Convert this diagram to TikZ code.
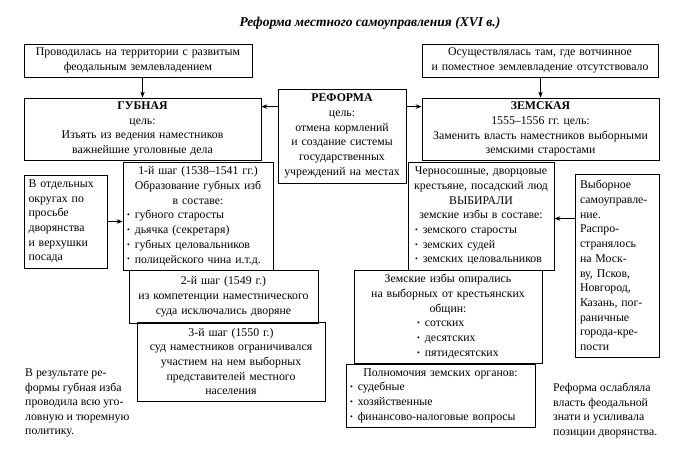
\documentclass[tikz,border=0pt]{standalone}
\usepackage{fontspec}
\setmainfont{Liberation Serif}
\usetikzlibrary{positioning,arrows.meta,calc}
\newcommand{\dotb}{\raisebox{.2ex}{\fontsize{8}{8}\selectfont\textbullet}}
\newcommand{\pnt}[2][0pt]{\makebox[\hsize][l]{\hspace{#1}\dotb\hspace{5pt}#2}}
\tikzset{
  blk/.style={rectangle, draw, line width=0.8pt, inner xsep=4pt, inner ysep=1pt,
              align=center, font=\fontsize{11.8}{14.7}\selectfont},
  flow/.style={-{Stealth[length=6pt,width=4.5pt]}, line width=0.7pt},
  note/.style={align=left, inner sep=0pt, font=\fontsize{11.8}{14.5}\selectfont},
}

\begin{document}
\begin{tikzpicture}[x=1pt, y=-1pt]
  \useasboundingbox (0,0) rectangle (681,458);
  \node[font=\fontsize{13.5}{15}\selectfont\bfseries\itshape] (title) at (370,23) {Реформа местного самоуправления (XVI в.)};

  % upper row
  \node[blk, text width=220pt, minimum height=33pt] (prov) at (138,60.5)
    {Проводилась на территории с развитым\\феодальным землевладением};
  \node[blk, text width=228pt, minimum height=33pt] (osush) at (540,60.5)
    {Осуществлялась там, где вотчинное\\и поместное землевладение отсутствовало};
  \node[blk, text width=229pt, minimum height=62pt] (gub) at (142.5,129)
    {\textbf{ГУБНАЯ}\\цель:\\Изъять из ведения наместников\\важнейшие уголовные дела};
  \node[blk, text width=120pt, minimum height=94pt] (ref) at (342,136)
    {\textbf{РЕФОРМА}\\цель:\\отмена кормлений\\и создание системы\\государственных\\учреждений на местах};
  \node[blk, text width=229pt, minimum height=62pt] (zem) at (540.5,129)
    {\textbf{ЗЕМСКАЯ}\\1555--1556 гг.\ цель:\\Заменить власть наместников выборными\\земскими старостами};

  % left branch
  \node[blk, text width=142pt, minimum height=108pt] (step1) at (198,216)
    {1-й шаг (1538--1541 гг.)\\Образование губных изб\\в составе:\\
     \pnt{губного старосты}\\\pnt{дьячка (секретаря)}\\\pnt{губных целовальников}\\\pnt{полицейского чина и.т.д.}};
  \node[blk, text width=74pt, minimum height=93pt, align=left, inner xsep=4.5pt] (otd) at (65.5,221.5)
    {В отдельных\\округах по\\просьбе\\дворянства\\и верхушки\\посада};
  \node[blk, text width=181pt, minimum height=53pt] (step2) at (223.5,296.5)
    {2-й шаг (1549 г.)\\из компетенции наместнического\\суда исключались дворяне};
  \node[blk, text width=180pt, minimum height=79pt] (step3) at (231,361.5)
    {3-й шаг (1550 г.)\\суд наместников ограничивался\\участием на нем выборных\\представителей местного\\населения};
  \node[note, anchor=north west] (res) at (25,369)
    {В результате ре-\\формы губная изба\\проводила всю уго-\\ловную и тюремную\\политику.};

  % right branch
  \node[blk, text width=138pt, minimum height=108pt] (cherno) at (481,216)
    {Черносошные, дворцовые\\крестьяне, посадский люд\\ВЫБИРАЛИ\\земские избы в составе:\\
     \pnt[3pt]{земского старосты}\\\pnt[3pt]{земских судей}\\\pnt[3pt]{земских целовальников}};
  \node[blk, text width=74pt, minimum height=183pt, align=left, inner xsep=5pt] (vyb) at (617,265.5)
    {Выборное\\самоуправле-\\ние.\\Распро-\\странялось\\на Моск-\\ву, Псков,\\Новгород,\\Казань, пог-\\раничные\\города-кре-\\пости};
  \node[blk, text width=180pt, minimum height=93pt] (opir) at (448,316.5)
    {Земские избы опирались\\на выборных от крестьянских\\общин:\\
     \pnt[59pt]{сотских}\\\pnt[59pt]{десятских}\\\pnt[59pt]{пятидесятских}};
  \node[blk, text width=181pt, minimum height=63pt] (poln) at (440.5,395.5)
    {Полномочия земских органов:\\\pnt{судебные}\\\pnt{хозяйственные}\\\pnt{финансово-налоговые вопросы}};
  \node[note, anchor=north west] (osl) at (553,383)
    {Реформа ослабляла\\власть феодальной\\знати и усиливала\\позиции дворянства.};

  \draw[flow] (gub.north |- prov.south) -- (gub.north);
  \draw[flow] (zem.north |- osush.south) -- (zem.north);
  \draw[flow] ([yshift=-18pt]ref.north west) -- ([yshift=-9pt]gub.north east);
  \draw[flow] ([yshift=-18pt]ref.north east) -- ([yshift=-9pt]zem.north west);
  \draw[flow] (otd.east) -- (otd.east -| step1.west);
  \draw[flow] ([yshift=-2.5pt]cherno.east -| vyb.west) -- ([yshift=-2.5pt]cherno.east);
\end{tikzpicture}
\end{document}
